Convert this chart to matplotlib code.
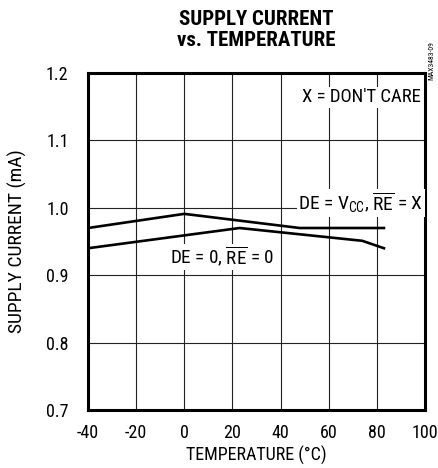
import matplotlib
matplotlib.use("Agg")
import matplotlib.pyplot as plt
from matplotlib import font_manager

fams = set(f.name for f in font_manager.fontManager.ttflist)
font = "Liberation Sans"
for cand in ["Liberation Sans Narrow", "Arial Narrow", "Roboto Condensed", "Archivo Narrow", "PT Sans Narrow"]:
    if cand in fams:
        font = cand
        break
plt.rcParams["font.family"] = [font, "DejaVu Sans"]
plt.rcParams["mathtext.fontset"] = "custom"
plt.rcParams["mathtext.rm"] = font
plt.rcParams["mathtext.it"] = font
plt.rcParams["mathtext.default"] = "regular"
plt.rcParams["axes.unicode_minus"] = False

# data
temp_vcc = [-40, 0, 48, 83]
curr_vcc = [0.970, 0.991, 0.970, 0.970]
temp_de0 = [-40, 23, 74, 83]
curr_de0 = [0.940, 0.970, 0.951, 0.940]

xticks = [-40, -20, 0, 20, 40, 60, 80, 100]
yticks = [0.7, 0.8, 0.9, 1.0, 1.1, 1.2]

fig = plt.figure(figsize=(4.38, 4.68), dpi=100)
ax = fig.add_axes([0.201, 0.124, 0.769, 0.720])

ax.plot(temp_vcc, curr_vcc, color="black", lw=1.9, zorder=3)
ax.plot(temp_de0, curr_de0, color="black", lw=1.9, zorder=3)

ax.set_xlim(-40, 100)
ax.set_ylim(0.7, 1.2)
ax.set_xticks(xticks)
ax.set_yticks(yticks)
ax.set_yticklabels(["%.1f" % v for v in yticks])
ax.grid(True, color="#222222", lw=0.8)
ax.set_axisbelow(True)
ax.tick_params(axis="y", length=0, labelsize=13, pad=14)
ax.tick_params(axis="x", length=0, labelsize=13, pad=10)
for s in ax.spines.values():
    s.set_linewidth(2.2)

ax.set_xlabel("TEMPERATURE (°C)", fontsize=13, labelpad=3)
ax.set_ylabel("SUPPLY CURRENT (mA)", fontsize=14, labelpad=14)
fig.text(0.584, 0.936, "SUPPLY CURRENT\nvs. TEMPERATURE", fontsize=15, fontweight="bold",
         linespacing=1.15, ha="center", va="center")

box = dict(facecolor="white", edgecolor="none", pad=1)
ax.text(98.5, 1.164, "X = DON'T CARE", fontsize=13.5, ha="right", va="center", bbox=box)
ax.text(99.3, 1.007, r"DE = V$_{CC}$, $\overline{RE}$ = X", fontsize=14,
        ha="right", va="center", bbox=box, zorder=4)
ax.text(15.5, 0.927, r"DE = 0, $\overline{RE}$ = 0", fontsize=13.8,
        ha="center", va="center", bbox=box, zorder=4)

fig.text(0.985, 0.87, "MAX3483-09", fontsize=5.5, rotation=90, ha="center", va="center")

fig.savefig("out.png", dpi=100)
